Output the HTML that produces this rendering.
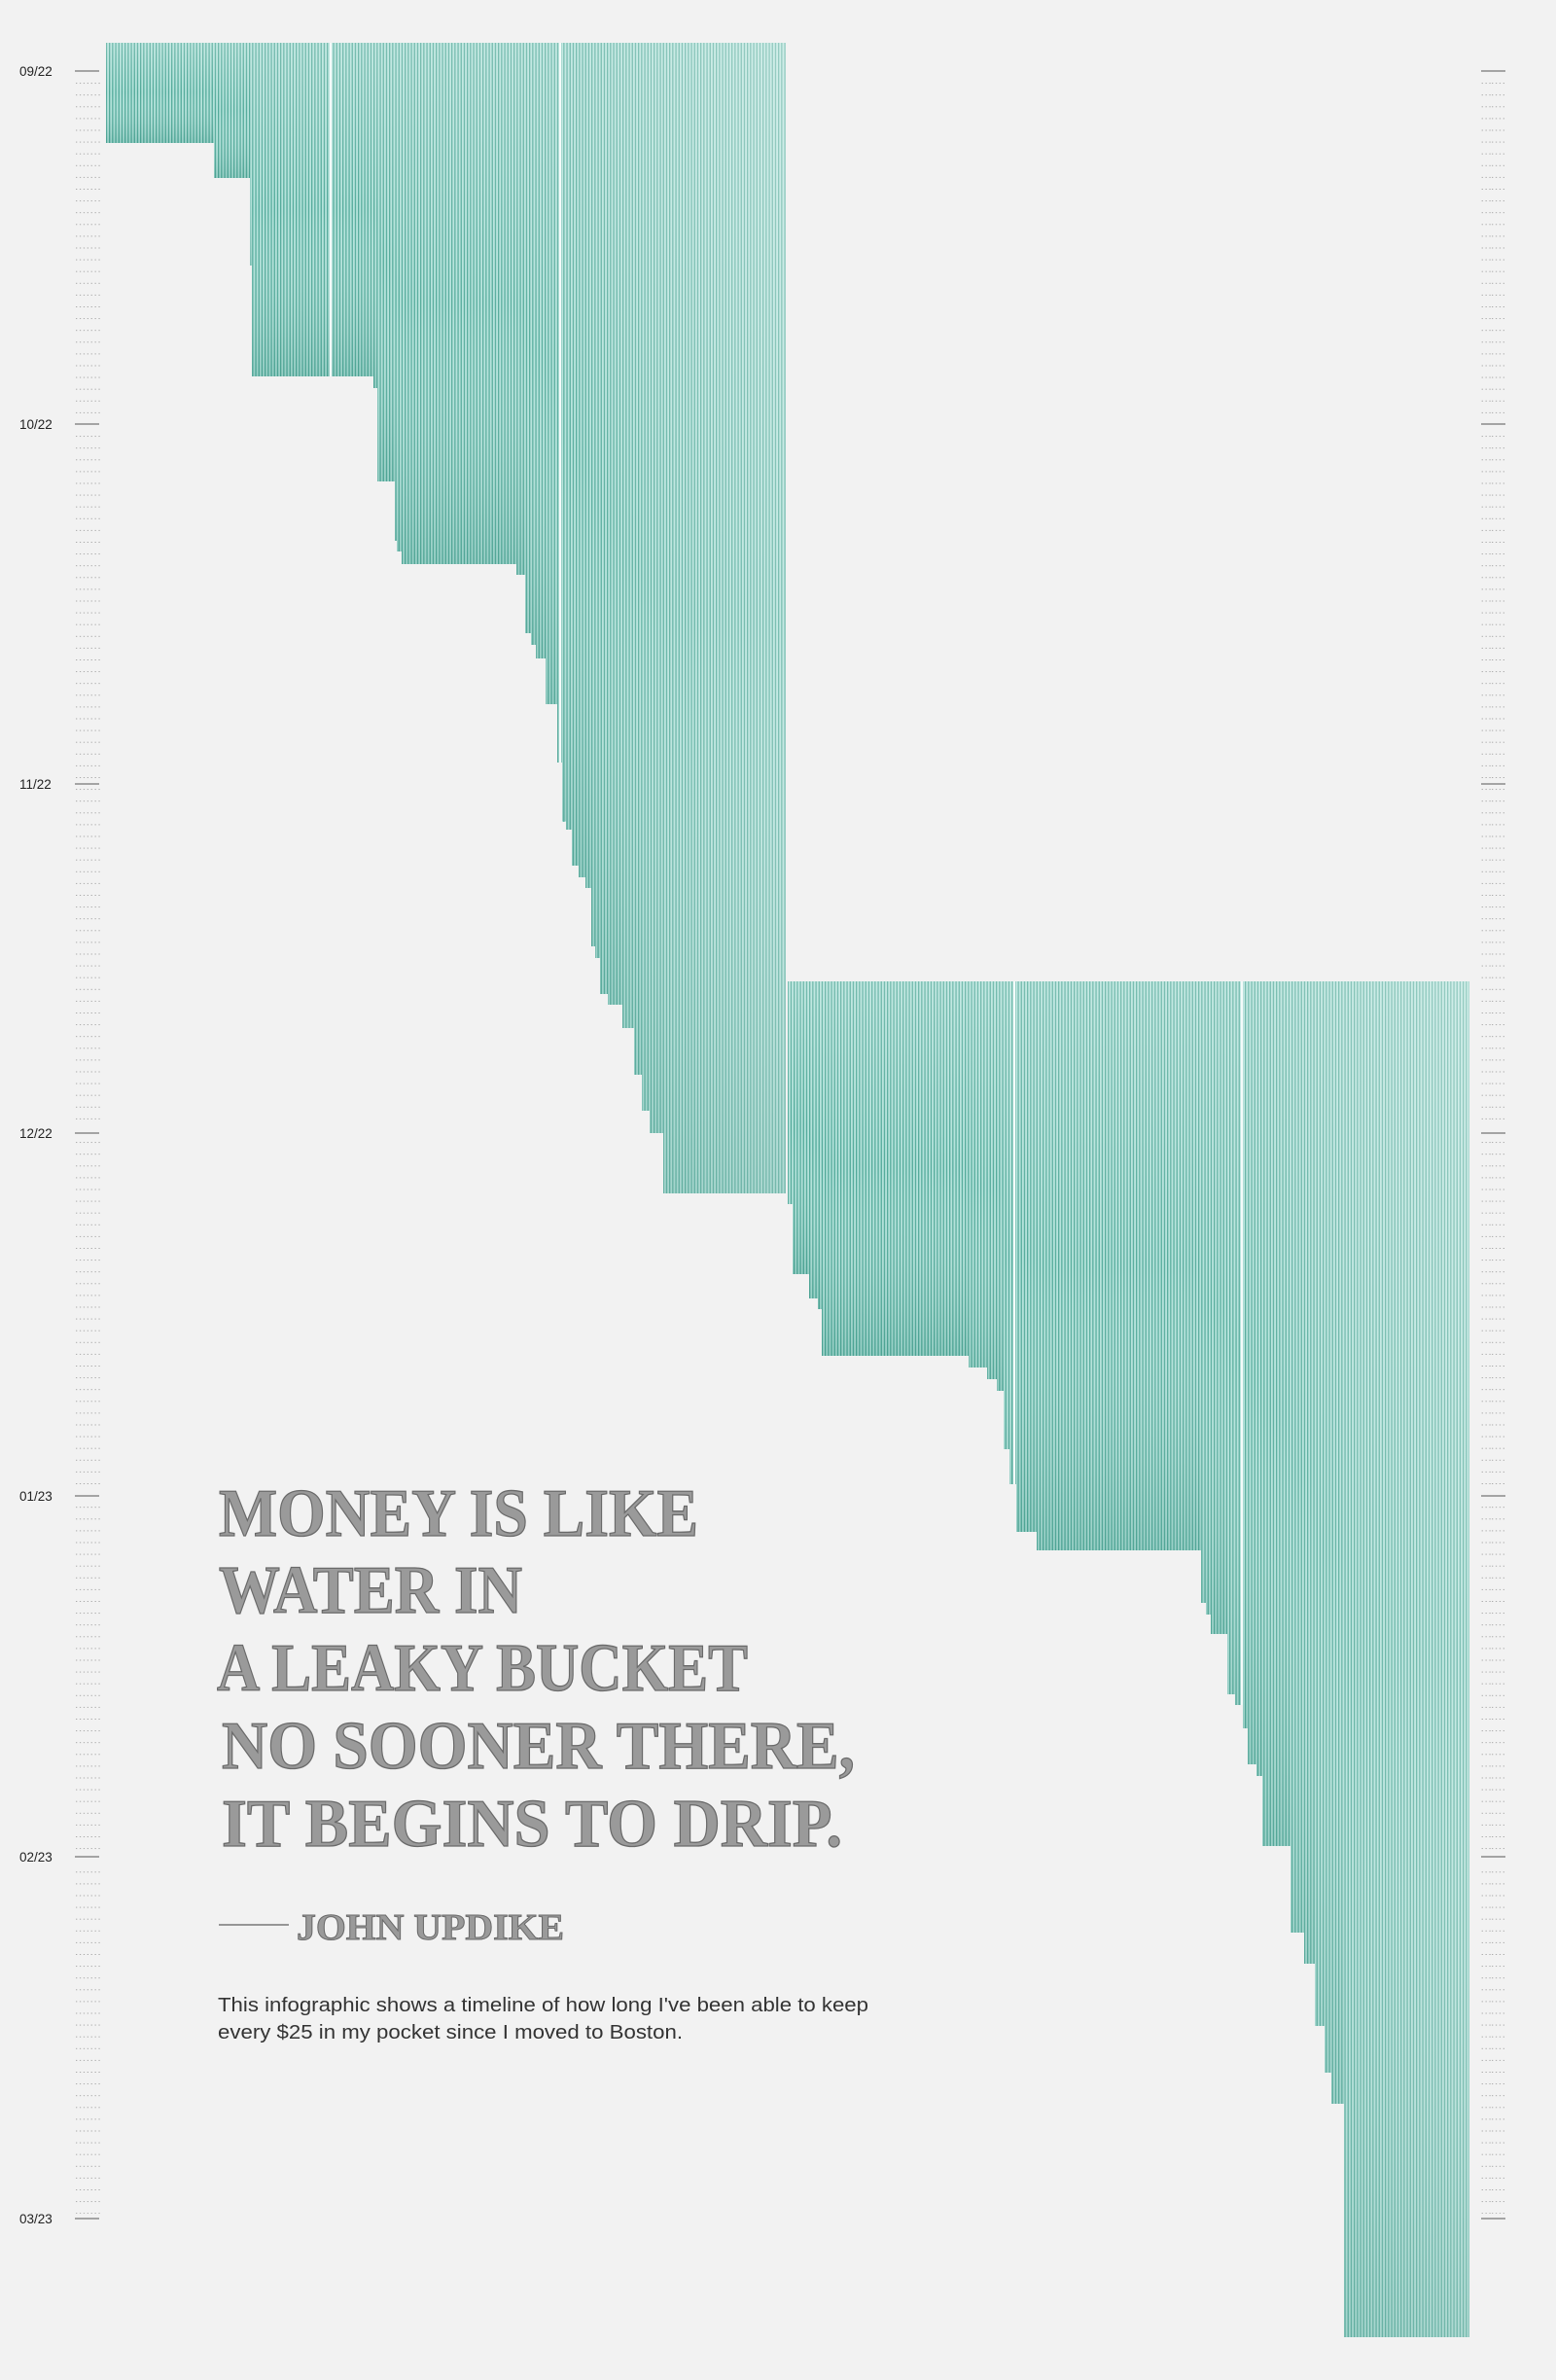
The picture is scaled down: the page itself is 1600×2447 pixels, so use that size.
<!DOCTYPE html>
<html><head><meta charset="utf-8"><style>
html,body{margin:0;padding:0;background:#f2f2f2;}
svg{display:block;}
</style></head><body>
<svg width="1600" height="2447" viewBox="0 0 1600 2447" xmlns="http://www.w3.org/2000/svg">
<defs>
<pattern id="st" patternUnits="userSpaceOnUse" width="3.2" height="10">
<rect width="3.2" height="10" fill="#b2e2da"/>
<rect x="0" width="1.3" height="10" fill="#4fa898"/>
</pattern>
<linearGradient id="sh" x1="0" y1="0" x2="0" y2="1">
<stop offset="0" stop-color="#ffffff" stop-opacity="0.2"/>
<stop offset="0.5" stop-color="#ffffff" stop-opacity="0"/>
<stop offset="1" stop-color="#1d7a6a" stop-opacity="0.2"/>
</linearGradient>
<linearGradient id="hz" x1="0" y1="0" x2="1" y2="0">
<stop offset="0" stop-color="#ffffff" stop-opacity="0"/>
<stop offset="0.7" stop-color="#ffffff" stop-opacity="0.06"/>
<stop offset="1" stop-color="#ffffff" stop-opacity="0.25"/>
</linearGradient>
<pattern id="dots" patternUnits="userSpaceOnUse" width="26" height="12.1" y="73">
<line x1="0" y1="0.5" x2="26" y2="0.5" stroke="#a8a8a8" stroke-width="1" stroke-dasharray="1.3 2.6"/>
</pattern>
<clipPath id="c1">
<path d="M109 44H808V1227H682V1165H668V1142H660V1105H652V1057H640V1033H625V1022H617V985H612V973H608V913H602V902H595V890H588V853H582V845H578V784H573V724H561V677H551V663H546V651H540V591H531V580H413V567H408V556H406V495H388V399H384V387H259V273H257V183H220V147H109Z"/>
</clipPath>
<clipPath id="c2">
<path d="M810 1009H1511V2403H1382V2163H1369V2131H1362V2083H1352V2019H1341V1987H1327V1898H1298V1826H1292V1814H1283V1777H1278V1753H1270V1742H1262V1680H1245V1660H1240V1648H1235V1594H1066V1575H1045V1526H1038V1490H1032V1430H1025V1418H1015V1406H996V1394H845V1346H841V1335H832V1310H815V1238H810Z"/>
</clipPath>
</defs>
<rect width="1600" height="2447" fill="#f2f2f2"/>

<!-- axes -->
<rect x="77" y="84" width="26" height="2192" fill="url(#dots)"/>
<rect x="1522" y="84" width="26" height="2192" fill="url(#dots)"/>
<g fill="#f2f2f2">
<rect x="76" y="68" width="28" height="10"/><rect x="76" y="431" width="28" height="10"/><rect x="76" y="801" width="28" height="10"/><rect x="76" y="1160" width="28" height="10"/><rect x="76" y="1533" width="28" height="10"/><rect x="76" y="1904" width="28" height="10"/><rect x="76" y="2276" width="28" height="10"/>
<rect x="1521" y="68" width="28" height="10"/><rect x="1521" y="431" width="28" height="10"/><rect x="1521" y="801" width="28" height="10"/><rect x="1521" y="1160" width="28" height="10"/><rect x="1521" y="1533" width="28" height="10"/><rect x="1521" y="1904" width="28" height="10"/><rect x="1521" y="2276" width="28" height="10"/>
</g>
<g stroke="#8a8a8a" stroke-width="1.5">
<line x1="77" y1="73" x2="102" y2="73"/><line x1="77" y1="436" x2="102" y2="436"/><line x1="77" y1="806" x2="102" y2="806"/><line x1="77" y1="1165" x2="102" y2="1165"/><line x1="77" y1="1538" x2="102" y2="1538"/><line x1="77" y1="1909" x2="102" y2="1909"/><line x1="77" y1="2281" x2="102" y2="2281"/>
<line x1="1523" y1="73" x2="1548" y2="73"/><line x1="1523" y1="436" x2="1548" y2="436"/><line x1="1523" y1="806" x2="1548" y2="806"/><line x1="1523" y1="1165" x2="1548" y2="1165"/><line x1="1523" y1="1538" x2="1548" y2="1538"/><line x1="1523" y1="1909" x2="1548" y2="1909"/><line x1="1523" y1="2281" x2="1548" y2="2281"/>
</g>
<g font-family="Liberation Sans, sans-serif" font-size="13.5" fill="#222">
<text x="20" y="78">09/22</text><text x="20" y="441">10/22</text><text x="20" y="811">11/22</text><text x="20" y="1170">12/22</text><text x="20" y="1543">01/23</text><text x="20" y="1914">02/23</text><text x="20" y="2286">03/23</text>
</g>

<!-- chart 1 -->
<g clip-path="url(#c1)">
<rect x="109" y="44" width="699" height="1183" fill="url(#st)"/>
<g fill="url(#sh)">
<rect x="109" y="44" width="111" height="103"/><rect x="220" y="44" width="37" height="139"/><rect x="257" y="44" width="2" height="229"/><rect x="259" y="44" width="125" height="343"/><rect x="384" y="44" width="4" height="355"/><rect x="388" y="44" width="18" height="451"/><rect x="406" y="44" width="7" height="523"/><rect x="413" y="44" width="118" height="536"/><rect x="531" y="44" width="9" height="547"/><rect x="540" y="44" width="11" height="619"/><rect x="551" y="44" width="10" height="633"/><rect x="561" y="44" width="12" height="680"/><rect x="573" y="44" width="9" height="800"/><rect x="582" y="44" width="13" height="846"/><rect x="595" y="44" width="13" height="869"/><rect x="608" y="44" width="9" height="941"/><rect x="617" y="44" width="23" height="989"/><rect x="640" y="44" width="20" height="1061"/><rect x="660" y="44" width="22" height="1121"/><rect x="682" y="44" width="126" height="1183"/>
</g>
<rect x="109" y="44" width="699" height="1183" fill="url(#hz)"/>
<rect x="339" y="44" width="2" height="1200" fill="#f4fbfa"/>
<rect x="575" y="44" width="2" height="1200" fill="#f4fbfa"/>
</g>

<!-- chart 2 -->
<g clip-path="url(#c2)">
<rect x="810" y="1009" width="701" height="1394" fill="url(#st)"/>
<g fill="url(#sh)">
<rect x="810" y="1009" width="22" height="301"/><rect x="832" y="1009" width="13" height="337"/><rect x="845" y="1009" width="151" height="385"/><rect x="996" y="1009" width="36" height="421"/><rect x="1032" y="1009" width="34" height="566"/><rect x="1066" y="1009" width="169" height="585"/><rect x="1235" y="1009" width="27" height="671"/><rect x="1262" y="1009" width="21" height="768"/><rect x="1283" y="1009" width="15" height="817"/><rect x="1298" y="1009" width="29" height="889"/><rect x="1327" y="1009" width="25" height="1010"/><rect x="1352" y="1009" width="30" height="1154"/><rect x="1382" y="1009" width="129" height="1394"/>
</g>
<rect x="810" y="1009" width="701" height="1394" fill="url(#hz)"/>
<rect x="1042" y="1009" width="2" height="1400" fill="#f4fbfa"/>
<rect x="1276" y="1009" width="2" height="1400" fill="#f4fbfa"/>
</g>

<!-- quote -->
<g font-family="Liberation Serif, serif" font-weight="bold" font-size="70" fill="#9a9a9a" stroke="#6a6a6a" stroke-width="1.3">
<text x="225" y="1579" textLength="493" lengthAdjust="spacingAndGlyphs">MONEY IS LIKE</text>
<text x="225" y="1658" textLength="312" lengthAdjust="spacingAndGlyphs">WATER IN</text>
<text x="223" y="1738" textLength="546" lengthAdjust="spacingAndGlyphs">A LEAKY BUCKET</text>
<text x="228" y="1818" textLength="651" lengthAdjust="spacingAndGlyphs">NO SOONER THERE,</text>
<text x="228" y="1898" textLength="638" lengthAdjust="spacingAndGlyphs">IT BEGINS TO DRIP.</text>
</g>
<line x1="225" y1="1979" x2="297" y2="1979" stroke="#777" stroke-width="1.5"/>
<text x="305" y="1994" font-family="Liberation Serif, serif" font-weight="bold" font-size="38" fill="#9a9a9a" stroke="#6a6a6a" stroke-width="1" textLength="275" lengthAdjust="spacingAndGlyphs">JOHN UPDIKE</text>
<g font-family="Liberation Sans, sans-serif" font-size="20" fill="#333">
<text x="224" y="2068" textLength="669" lengthAdjust="spacingAndGlyphs">This infographic shows a timeline of how long I've been able to keep</text>
<text x="224" y="2096" textLength="478" lengthAdjust="spacingAndGlyphs">every $25 in my pocket since I moved to Boston.</text>
</g>
</svg>
</body></html>
